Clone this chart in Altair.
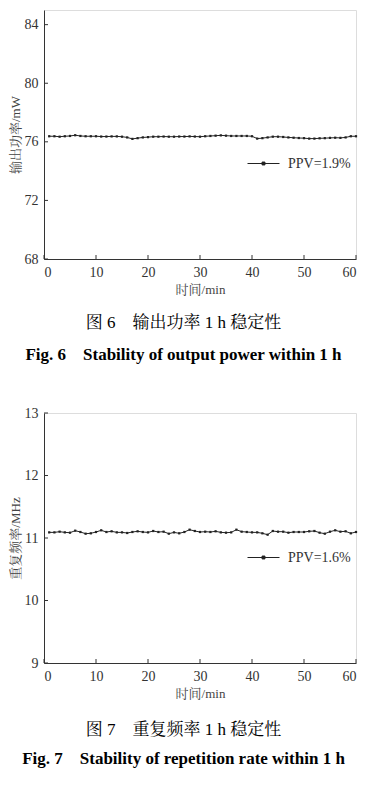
import altair as alt
import pandas as pd

minutes = list(range(1, 61))

power = [76.38, 76.38, 76.35, 76.38, 76.40, 76.45, 76.40, 76.38, 76.38, 76.38,
         76.36, 76.36, 76.37, 76.37, 76.35, 76.30, 76.20, 76.25, 76.30, 76.32,
         76.35, 76.35, 76.36, 76.35, 76.35, 76.36, 76.36, 76.37, 76.36, 76.35,
         76.38, 76.40, 76.42, 76.44, 76.42, 76.40, 76.40, 76.40, 76.40, 76.38,
         76.22, 76.25, 76.30, 76.35, 76.35, 76.33, 76.30, 76.28, 76.26, 76.25,
         76.22, 76.22, 76.24, 76.25, 76.27, 76.28, 76.27, 76.30, 76.38, 76.38]

rate = [11.090, 11.090, 11.101, 11.090, 11.085, 11.117, 11.096, 11.069, 11.075, 11.096,
        11.123, 11.096, 11.107, 11.090, 11.090, 11.080, 11.096, 11.107, 11.096, 11.090,
        11.112, 11.096, 11.101, 11.069, 11.090, 11.075, 11.096, 11.133, 11.112, 11.096,
        11.101, 11.096, 11.107, 11.090, 11.085, 11.090, 11.133, 11.101, 11.096, 11.090,
        11.090, 11.075, 11.053, 11.112, 11.101, 11.101, 11.085, 11.096, 11.096, 11.096,
        11.107, 11.112, 11.085, 11.069, 11.101, 11.123, 11.101, 11.107, 11.075, 11.096]

x_ticks = [0, 10, 20, 30, 40, 50, 60]
power_ticks = [68, 72, 76, 80, 84]
rate_ticks = [9, 10, 11, 12, 13]
power_domain = [68, 85]
rate_domain = [9, 13]

power_label = "PPV=1.9%"
rate_label = "PPV=1.6%"
power_ytitle = "输出功率/mW"
rate_ytitle = "重复频率/MHz"
x_title = "时间/min"
cap6_cn = "图 6\u2003输出功率 1 h 稳定性"
cap6_en = "Fig. 6\u2003Stability of output power within 1 h"
cap7_cn = "图 7\u2003重复频率 1 h 稳定性"
cap7_en = "Fig. 7\u2003Stability of repetition rate within 1 h"

FONT = "Liberation Serif, Noto Serif CJK SC, Noto Sans CJK SC"
W = 312
LINE = "#222222"


def panel(values, label, ytitle, ydomain, yticks, cn, en, h, leg_y, cap_off, sub_pad):
    df = pd.DataFrame({"t": minutes, "v": values, "s": [label] * len(minutes)})
    xs = alt.Scale(domain=[0, 60], nice=False)
    ys = alt.Scale(domain=ydomain, nice=False, zero=False)
    xaxis = alt.Axis(values=x_ticks, title=x_title, ticks=False, grid=False,
                     labelFont=FONT, labelFontSize=14, labelColor="#333",
                     labelPadding=6, titleFont=FONT, titleFontSize=13,
                     titleFontWeight="normal", titleColor="#444", titlePadding=4,
                     domainColor="#333", format="d")
    yaxis = alt.Axis(values=yticks, title=ytitle, ticks=False, grid=False,
                     labelFont=FONT, labelFontSize=14, labelColor="#333",
                     labelPadding=6, titleFont=FONT, titleFontSize=13,
                     titleFontWeight="normal", titleColor="#444", titlePadding=2,
                     domainColor="#333", format="d")
    legend = alt.Legend(title=None, orient="none", legendX=203, legendY=leg_y,
                        padding=0,
                        symbolType="M-1,0H1M-0.09,-0.09H0.09V0.09H-0.09Z",
                        symbolSize=1024, symbolStrokeWidth=1,
                        symbolFillColor=LINE, symbolStrokeColor=LINE,
                        labelFont=FONT, labelFontSize=14, labelColor="#333",
                        labelOffset=8)
    line = alt.Chart(df).mark_line(
        strokeWidth=1,
        point=alt.OverlayMarkDef(shape="square", size=5, filled=True),
    ).encode(
        x=alt.X("t:Q", scale=xs, axis=xaxis),
        y=alt.Y("v:Q", scale=ys, axis=yaxis),
        color=alt.Color("s:N", scale=alt.Scale(range=[LINE]), legend=legend),
    )
    yt = alt.Chart(pd.DataFrame({"v": yticks})).mark_rule(color="#333", strokeWidth=1).encode(
        y=alt.Y("v:Q", scale=ys), x=alt.value(0), x2=alt.value(4))
    xt = alt.Chart(pd.DataFrame({"t": x_ticks})).mark_rule(color="#333", strokeWidth=1).encode(
        x=alt.X("t:Q", scale=xs), y=alt.value(h), y2=alt.value(h - 4))
    return alt.layer(line, yt, xt).properties(
        width=W, height=h,
        title=alt.TitleParams(text=cn, subtitle=en, orient="bottom", anchor="middle",
                              frame="bounds", font=FONT, fontSize=17,
                              fontWeight="normal", color="black",
                              subtitleFont=FONT, subtitleFontSize=17,
                              subtitleFontWeight="bold", subtitleColor="black",
                              offset=cap_off, subtitlePadding=sub_pad),
    )


c1 = panel(power, power_label, power_ytitle, power_domain, power_ticks,
           cap6_cn, cap6_en, 249, 137, 19, 15)
c2 = panel(rate, rate_label, rate_ytitle, rate_domain, rate_ticks,
           cap7_cn, cap7_en, 250, 128, 22, 12)

chart = alt.vconcat(c1, c2, spacing=41).resolve_scale(
    color="independent"
).resolve_legend(color="independent").properties(
    padding={"left": 0, "top": 1, "right": 0, "bottom": 0}
).configure_view(stroke="#333", strokeWidth=1).configure(background="white")

chart.save("out.html", embed_options={"renderer": "svg", "actions": False})
